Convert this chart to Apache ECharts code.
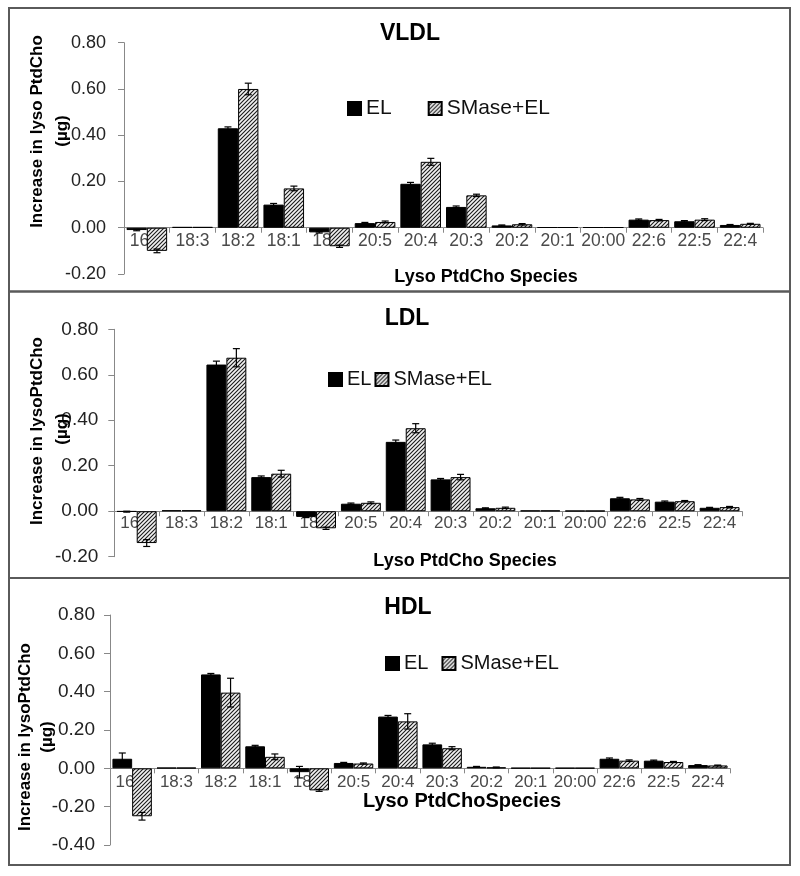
<!DOCTYPE html>
<html>
<head>
<meta charset="utf-8">
<script src="https://cdn.jsdelivr.net/npm/echarts@6/dist/echarts.min.js"></script>
<style>html,body{margin:0;padding:0;background:#fff}#c{width:800px;height:876px}</style>
</head>
<body>
<div id="c"></div>
<script>
// ---- data ----
const categories = ['16:0','18:3','18:2','18:1','18:0','20:5','20:4','20:3','20:2','20:1','20:00','22:6','22:5','22:4'];
const seriesNames = ['EL','SMase+EL'];
const yTicksVLDL = [-0.2, 0.8];
const yTicksLDL = [-0.2, 0.8];
const yTicksHDL = [-0.4, 0.8];

const vldlEL    = [-0.01, 0.003, 0.43, 0.10, -0.02, 0.02, 0.19, 0.09, 0.01, 0.002, 0.002, 0.035, 0.028, 0.012];
const vldlSM    = [-0.10, 0.003, 0.60, 0.17, -0.08, 0.025, 0.285, 0.14, 0.015, 0.002, 0.002, 0.033, 0.035, 0.017];
const vldlELerr = [0.003, 0, 0.006, 0.005, 0.003, 0.003, 0.006, 0.004, 0.002, 0, 0, 0.003, 0.003, 0.002];
const vldlSMerr = [0.008, 0, 0.025, 0.010, 0.005, 0.004, 0.015, 0.005, 0.003, 0, 0, 0.003, 0.004, 0.002];

const ldlEL     = [-0.002, 0.004, 0.645, 0.15, -0.025, 0.033, 0.305, 0.14, 0.013, 0.003, 0.002, 0.057, 0.042, 0.015];
const ldlSM     = [-0.14, 0.004, 0.675, 0.165, -0.075, 0.037, 0.365, 0.15, 0.015, 0.003, 0.002, 0.052, 0.044, 0.018];
const ldlELerr  = [0.002, 0, 0.015, 0.005, 0.003, 0.003, 0.008, 0.004, 0.002, 0, 0, 0.004, 0.003, 0.002];
const ldlSMerr  = [0.015, 0, 0.040, 0.015, 0.005, 0.004, 0.020, 0.012, 0.003, 0, 0, 0.004, 0.003, 0.003];

const hdlEL     = [0.05, 0.003, 0.49, 0.115, -0.02, 0.028, 0.27, 0.125, 0.008, 0.002, 0.002, 0.05, 0.04, 0.017];
const hdlSM     = [-0.25, 0.003, 0.395, 0.06, -0.115, 0.025, 0.245, 0.105, 0.005, 0.002, 0.002, 0.04, 0.033, 0.015];
const hdlELerr  = [0.03, 0, 0.005, 0.005, 0.03, 0.003, 0.006, 0.006, 0.002, 0, 0, 0.004, 0.003, 0.002];
const hdlSMerr  = [0.02, 0, 0.075, 0.015, 0.005, 0.003, 0.040, 0.008, 0.002, 0, 0, 0.004, 0.003, 0.002];

const panelTitles = ['VLDL','LDL','HDL'];
const yNames = [['Increase in lyso PtdCho','(µg)'],['Increase in lysoPtdCho','(µg)'],['Increase in lysoPtdCho','(µg)']];
const xNames = ['Lyso PtdCho Species','Lyso PtdCho Species','Lyso PtdChoSpecies'];

// ---- styling ----
const FONT = '"Liberation Sans", Arial, sans-serif';
const H = 876;
function hatch(){
  const s = 4;
  const c = document.createElement('canvas'); c.width = s; c.height = s;
  const g = c.getContext('2d');
  g.fillStyle = '#f2f2f2'; g.fillRect(0,0,s,s);
  g.strokeStyle = '#1a1a1a'; g.lineWidth = 1.1;
  g.beginPath();
  g.moveTo(0,s); g.lineTo(s,0);
  g.moveTo(-1,1); g.lineTo(1,-1);
  g.moveTo(s-1,s+1); g.lineTo(s+1,s-1);
  g.stroke();
  return c;
}
const hatchPattern = {image: hatch(), repeat: 'repeat'};
const GAP = 0.11;

const panels = [
  {grid:{left:124, right:37, top:42.7, bottom:602}, yr:yTicksVLDL, el:vldlEL, sm:vldlSM, ele:vldlELerr, sme:vldlSMerr,
   yFont:18, yMargin:18, xFont:17.5, xMargin:4,
   legend:{left:342, top:93, font:21, gap:36, iw:13},
   title:{x:410, y:34, size:23}, yn:{x1:37, y1:131.5, x2:62, y2:131, size:17}, xn:{x:486, y:277, size:18}},
  {grid:{left:114.3, right:58, top:329.3, bottom:319.3}, yr:yTicksLDL, el:ldlEL, sm:ldlSM, ele:ldlELerr, sme:ldlSMerr,
   yFont:19, yMargin:16, xFont:17, xMargin:4,
   legend:{left:323, top:364.5, font:20, gap:3, iw:13},
   title:{x:407, y:319, size:23}, yn:{x1:37, y1:431, x2:62, y2:429, size:17}, xn:{x:465, y:561.5, size:18}},
  {grid:{left:110, right:70, top:615, bottom:31}, yr:yTicksHDL, el:hdlEL, sm:hdlSM, ele:hdlELerr, sme:hdlSMerr,
   yFont:19, yMargin:15, xFont:17, xMargin:5,
   legend:{left:380, top:648.5, font:20, gap:13, iw:13},
   title:{x:408, y:608, size:23}, yn:{x1:25, y1:737, x2:47, y2:737, size:17}, xn:{x:462, y:801.5, size:20}}
];

const option = {
  animation: false,
  backgroundColor: '#fff',
  grid: [], xAxis: [], yAxis: [], series: [], legend: [], graphic: []
};

function errRender(sign){
  return function(params, api){
    const i = api.value(0), v = api.value(1), e = api.value(2);
    if (!e) return null;
    const catW = api.size([1, 0])[0];
    const bw = catW * (1 - GAP) / 2;
    const off = sign * bw / 2;
    const top = api.coord([i, v + e]);
    const bot = api.coord([i, v - e]);
    const x = top[0] + off;
    const cw = 3.5;
    const st = {stroke:'#000', lineWidth:1.2};
    return {type:'group', children:[
      {type:'line', shape:{x1:x, y1:top[1], x2:x, y2:bot[1]}, style:st},
      {type:'line', shape:{x1:x-cw, y1:top[1], x2:x+cw, y2:top[1]}, style:st},
      {type:'line', shape:{x1:x-cw, y1:bot[1], x2:x+cw, y2:bot[1]}, style:st}
    ]};
  };
}

panels.forEach((p, k) => {
  option.grid.push(Object.assign({containLabel:false}, p.grid));
  // place the category axis on the zero line of the value scale
  const gridH = H - p.grid.top - p.grid.bottom;
  const zeroOffset = -gridH * (0 - p.yr[0]) / (p.yr[1] - p.yr[0]);
  option.xAxis.push({
    type:'category', gridIndex:k, data:categories, position:'bottom', offset:zeroOffset,
    axisLine:{onZero:false, lineStyle:{color:'#888', width:1}},
    axisTick:{show:true, alignWithLabel:false, length:5, lineStyle:{color:'#888'}},
    axisLabel:{interval:0, fontSize:p.xFont, color:'#4a4a4a', fontFamily:FONT, margin:p.xMargin},
    splitLine:{show:false}, z:0
  });
  option.yAxis.push({
    type:'value', gridIndex:k, min:p.yr[0], max:p.yr[1], interval:0.2,
    axisLine:{show:true, lineStyle:{color:'#888', width:1}},
    axisTick:{show:true, length:6, lineStyle:{color:'#888'}},
    axisLabel:{fontSize:p.yFont, color:'#222', fontFamily:FONT, margin:p.yMargin,
      formatter: v => v.toFixed(2)},
    splitLine:{show:false}
  });
  option.series.push({
    name:seriesNames[0], type:'bar', xAxisIndex:k, yAxisIndex:k, data:p.el,
    barGap:'0%', barCategoryGap:(GAP*100)+'%',
    itemStyle:{color:'#000', borderColor:'#000', borderWidth:1}, z:3
  });
  option.series.push({
    name:seriesNames[1], type:'bar', xAxisIndex:k, yAxisIndex:k, data:p.sm,
    barGap:'0%', barCategoryGap:(GAP*100)+'%',
    itemStyle:{color:hatchPattern, borderColor:'#000', borderWidth:1}, z:3
  });
  option.series.push({
    type:'custom', xAxisIndex:k, yAxisIndex:k, z:5, silent:true,
    renderItem: errRender(-1), encode:{x:0, y:1},
    data: p.el.map((v,i)=>[i, v, p.ele[i]])
  });
  option.series.push({
    type:'custom', xAxisIndex:k, yAxisIndex:k, z:5, silent:true,
    renderItem: errRender(1), encode:{x:0, y:1},
    data: p.sm.map((v,i)=>[i, v, p.sme[i]])
  });
  option.legend.push({
    data:seriesNames, orient:'horizontal', left:p.legend.left, top:p.legend.top,
    icon:'rect', itemWidth:p.legend.iw, itemHeight:p.legend.iw, itemGap:p.legend.gap,
    textStyle:{fontSize:p.legend.font, color:'#111', fontFamily:FONT}, selectedMode:false
  });
  option.graphic.push({type:'text', x:p.title.x, y:p.title.y, z:10,
    style:{text:panelTitles[k], fontSize:p.title.size, fontWeight:'bold', fontFamily:FONT, fill:'#000',
      textAlign:'center', textVerticalAlign:'middle', verticalAlign:'middle'}});
  option.graphic.push({type:'text', x:p.yn.x1, y:p.yn.y1, rotation:Math.PI/2, z:10,
    style:{text:yNames[k][0], fontSize:p.yn.size, fontWeight:'bold', fontFamily:FONT, fill:'#000',
      textAlign:'center', textVerticalAlign:'middle', verticalAlign:'middle'}});
  option.graphic.push({type:'text', x:p.yn.x2, y:p.yn.y2, rotation:Math.PI/2, z:10,
    style:{text:yNames[k][1], fontSize:p.yn.size, fontWeight:'bold', fontFamily:FONT, fill:'#000',
      textAlign:'center', textVerticalAlign:'middle', verticalAlign:'middle'}});
  option.graphic.push({type:'text', x:p.xn.x, y:p.xn.y, z:10,
    style:{text:xNames[k], fontSize:p.xn.size, fontWeight:'bold', fontFamily:FONT, fill:'#000',
      textAlign:'center', textVerticalAlign:'middle', verticalAlign:'middle'}});
});

[[9,8,781,283.5],[9,291.5,781,286.5],[9,578,781,287]].forEach(r => {
  option.graphic.push({type:'rect', z:1, shape:{x:r[0], y:r[1], width:r[2], height:r[3]},
    style:{fill:null, stroke:'#5a5a5a', lineWidth:2}});
});

const chart = echarts.init(document.getElementById('c'), null, {renderer:'canvas'});
chart.setOption(option);
</script>
</body>
</html>
